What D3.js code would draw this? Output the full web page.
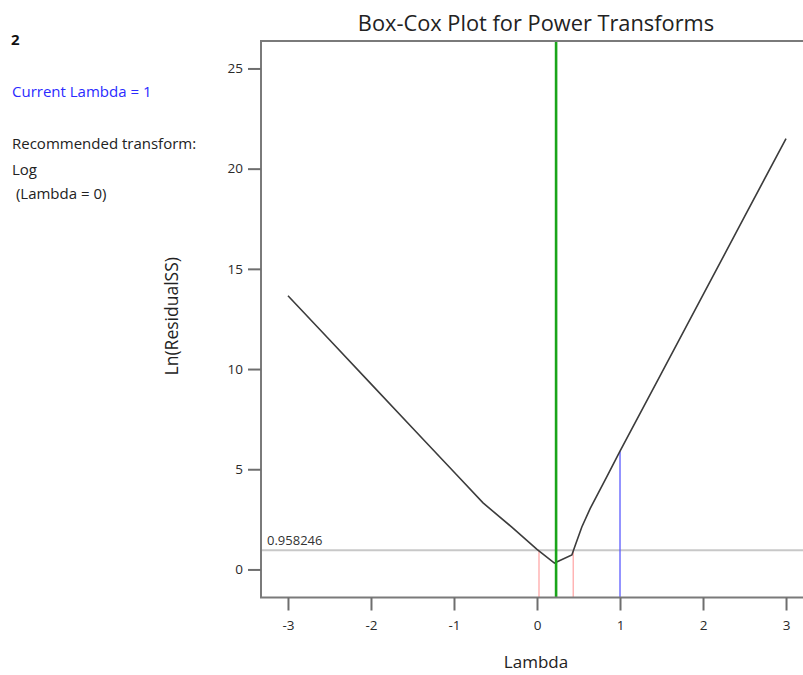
<!DOCTYPE html>
<html>
<head>
<meta charset="utf-8">
<script src="https://cdn.jsdelivr.net/npm/d3@7"></script>
<style>
  html, body { margin: 0; padding: 0; background: #fff; }
  svg { display: block; font-family: "Open Sans", "Noto Sans", sans-serif; }
</style>
</head>
<body>
<svg id="chart" width="803" height="675"></svg>
<script>
// Box-Cox curve: ln(residual SS) against lambda
const lambdaValues = [-3, -2.5, -2, -1.5, -1, -0.65, -0.3, 0, 0.21, 0.42, 0.46, 0.54, 0.64, 0.84, 1, 1.5, 2, 2.5, 3];
const lnResidualSS = [13.66, 11.46, 9.26, 7.06, 4.86, 3.32, 2.1, 1.0, 0.32, 0.72, 1.2, 2.12, 3.03, 4.62, 5.9, 9.8, 13.7, 17.6, 21.5];

const xTicks = [-3, -2, -1, 0, 1, 2, 3];
const yTicks = [0, 5, 10, 15, 20, 25];

const bestLambda = 0.23;            // optimum (green)
const ciLow = 0.024, ciHigh = 0.437; // confidence interval (pink)
const currentLambda = 1;            // current lambda (blue)
const ciThreshold = 0.958246;       // threshold line value

const infoLines = [
  { text: "2", weight: "bold", color: "#111", x: 11, y: 45 },
  { text: "Current Lambda = 1", weight: "normal", color: "#2b2bff", x: 12, y: 97 },
  { text: "Recommended transform:", weight: "normal", color: "#222", x: 12, y: 149 },
  { text: "Log", weight: "normal", color: "#222", x: 12, y: 175 },
  { text: "\u00a0(Lambda = 0)", weight: "normal", color: "#222", x: 12, y: 199 }
];

const svg = d3.select("#chart");
const plot = { left: 261, right: 813, top: 41, bottom: 597.5 };

const x = d3.scaleLinear().domain([-3.325, 3.325]).range([plot.left, plot.right]);
const y = d3.scaleLinear().domain([-1.4, 26.37]).range([plot.bottom, plot.top]);

// title
svg.append("text")
  .attr("x", (plot.left + plot.right) / 2 - 1)
  .attr("y", 31)
  .attr("text-anchor", "middle")
  .attr("font-size", 21.8)
  .attr("fill", "#222")
  .text("Box-Cox Plot for Power Transforms");

// info text on the left
svg.selectAll("text.info").data(infoLines).join("text")
  .attr("class", "info")
  .attr("x", d => d.x).attr("y", d => d.y)
  .attr("font-size", 15)
  .attr("font-weight", d => d.weight)
  .attr("fill", d => d.color)
  .text(d => d.text);

// threshold line
svg.append("line")
  .attr("x1", plot.left).attr("x2", plot.right)
  .attr("y1", y(ciThreshold)).attr("y2", y(ciThreshold))
  .attr("stroke", "#c8c8c8").attr("stroke-width", 2);

svg.append("text")
  .attr("x", 267).attr("y", y(ciThreshold) - 5)
  .attr("font-size", 13)
  .attr("fill", "#333")
  .text(ciThreshold.toString());

// confidence interval lines
[ciLow, ciHigh].forEach(v => {
  svg.append("line")
    .attr("x1", x(v)).attr("x2", x(v))
    .attr("y1", plot.bottom).attr("y2", y(ciThreshold))
    .attr("stroke", "#ffb4b4").attr("stroke-width", 1.5);
});

// current lambda line up to curve
const currentIdx = lambdaValues.indexOf(currentLambda);
svg.append("line")
  .attr("x1", x(currentLambda)).attr("x2", x(currentLambda))
  .attr("y1", plot.bottom).attr("y2", y(lnResidualSS[currentIdx]))
  .attr("stroke", "#5a5aff").attr("stroke-width", 1.3);

// curve
const pts = lambdaValues.map((l, i) => [l, lnResidualSS[i]]);
svg.append("path")
  .datum(pts)
  .attr("fill", "none")
  .attr("stroke", "#3c3c3c")
  .attr("stroke-width", 1.6)
  .attr("d", d3.line().x(d => x(d[0])).y(d => y(d[1])));

// best lambda line
svg.append("line")
  .attr("x1", x(bestLambda)).attr("x2", x(bestLambda))
  .attr("y1", plot.top).attr("y2", plot.bottom)
  .attr("stroke", "#1aa51a").attr("stroke-width", 2.6);

// frame
svg.append("path")
  .attr("d", `M${plot.right},${plot.top}H${plot.left}V${plot.bottom}H${plot.right}`)
  .attr("fill", "none")
  .attr("stroke", "#7a7a7a")
  .attr("stroke-width", 2);

// axes
const fmt = d => String(d);
const xAxis = svg.append("g")
  .attr("transform", `translate(0,${plot.bottom})`)
  .call(d3.axisBottom(x).tickValues(xTicks).tickSize(13).tickPadding(10).tickFormat(fmt));
const yAxis = svg.append("g")
  .attr("transform", `translate(${plot.left},0)`)
  .call(d3.axisLeft(y).tickValues(yTicks).tickSize(13).tickPadding(5).tickFormat(fmt));

[xAxis, yAxis].forEach(g => {
  g.select(".domain").remove();
  g.selectAll(".tick line").attr("stroke", "#6e6e6e").attr("stroke-width", 2);
  g.selectAll(".tick text")
    .attr("font-family", "'Open Sans', 'Noto Sans', sans-serif")
    .attr("font-size", 13.5)
    .attr("fill", "#2a2a2a");
});

// axis titles
svg.append("text")
  .attr("x", (plot.left + plot.right) / 2 - 1)
  .attr("y", 668)
  .attr("text-anchor", "middle")
  .attr("font-size", 17)
  .attr("fill", "#222")
  .text("Lambda");

svg.append("text")
  .attr("transform", `translate(178,${(plot.top + plot.bottom) / 2 - 3}) rotate(-90)`)
  .attr("text-anchor", "middle")
  .attr("font-size", 17.5)
  .attr("fill", "#222")
  .text("Ln(ResidualSS)");
</script>
</body>
</html>
